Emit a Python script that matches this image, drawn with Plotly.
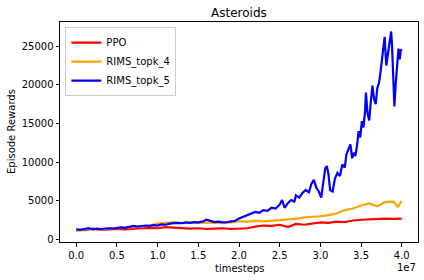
import plotly.graph_objects as go

# timesteps in units of 1e6
ppo_t = list(range(0, 41))
ppo_v = [1250, 1200, 1400, 1250, 1300, 1350, 1300, 1400, 1450, 1500,
         1450, 1600, 1550, 1500, 1400, 1450, 1350, 1400, 1450, 1350,
         1400, 1450, 1650, 1800, 1750, 1900, 1600, 2000, 1900, 2050,
         2200, 2150, 2300, 2250, 2450, 2550, 2600, 2650, 2700, 2650, 2700]

rims4_t = list(range(0, 40)) + [39.5, 40]
rims4_v = [1100, 1300, 1350, 1300, 1400, 1450, 1500, 1600, 1650, 1800,
           2050, 2150, 2200, 2150, 2200, 2150, 2200, 2150, 2100, 2200,
           2350, 2300, 2400, 2350, 2400, 2500, 2600, 2650, 2850, 2900,
           3000, 3150, 3350, 3800, 4000, 4400, 4650, 4300, 4850, 4900, 4200, 4950]

rims5_t = [0, 0.5, 1, 1.5, 2, 2.5, 3, 3.5, 4, 4.5, 5, 5.5, 6, 6.5, 7, 7.5, 8, 8.5, 9, 9.5,
           10, 10.5, 11, 11.5, 12, 12.5, 13, 13.5, 14, 14.5, 15, 15.5, 16, 16.5, 17, 17.5,
           18, 18.5, 19, 19.5, 20, 20.5, 21, 21.5, 22, 22.5, 23, 23.5, 24, 24.5, 25, 25.3,
           25.6, 26, 26.4, 26.8, 27, 27.4, 27.8, 28.2, 28.6, 28.9, 29.2, 29.5, 29.8, 30.1,
           30.4, 30.6, 30.8, 31.0, 31.2, 31.5, 31.8, 32.1, 32.4, 32.7, 33.0, 33.2, 33.5,
           33.7, 33.9, 34.1, 34.3, 34.5, 34.7, 34.9, 35.1, 35.3, 35.5, 35.6, 35.8, 36.0,
           36.2, 36.4, 36.6, 36.8, 37.0, 37.2, 37.4, 37.6, 37.9, 38.1, 38.3, 38.5, 38.7,
           38.8, 38.95, 39.1, 39.25, 39.4, 39.6, 39.75, 39.9, 40.0]
rims5_v = [1300, 1250, 1350, 1450, 1300, 1400, 1350, 1400, 1450, 1400, 1500, 1550, 1500,
           1600, 1750, 1650, 1700, 1800, 1750, 1850, 1800, 1950, 1900, 2050, 2100, 2150,
           2100, 2200, 2150, 2250, 2200, 2300, 2550, 2350, 2250, 2300, 2200, 2250, 2300,
           2400, 2700, 2900, 3200, 3300, 3550, 3450, 3800, 3700, 4100, 4000, 4500, 5100,
           4100, 4700, 5100, 4900, 5700, 5400, 6000, 6400, 6100, 7200, 7700, 6700, 6200,
           5400, 7500, 9200, 9500, 8400, 6400, 6200, 7900, 8600, 8200, 9700, 9300, 11000,
           11800, 12300, 10500, 11200, 10800, 12100, 14000, 13200, 15300, 14500, 16700,
           19000, 16300, 15400, 17800, 19900, 18200, 17500, 19600, 20200, 21700, 23600,
           26200, 22500, 24100, 25000, 26900, 25300, 21000, 17200, 20000, 22500, 24700,
           23300, 24600, 24400]

x_tick_vals = [0, 5, 10, 15, 20, 25, 30, 35, 40]
x_tick_text = ["0.0", "0.5", "1.0", "1.5", "2.0", "2.5", "3.0", "3.5", "4.0"]
y_tick_vals = [0, 5000, 10000, 15000, 20000, 25000]
y_tick_text = ["0", "5000", "10000", "15000", "20000", "25000"]

font = "DejaVu Sans"

fig = go.Figure()
fig.add_trace(go.Scatter(x=[t * 1e6 for t in ppo_t], y=ppo_v, mode="lines", name="PPO",
                         line=dict(color="red", width=2.2)))
fig.add_trace(go.Scatter(x=[t * 1e6 for t in rims4_t], y=rims4_v, mode="lines", name="RIMS_topk_4",
                         line=dict(color="orange", width=2.2)))
fig.add_trace(go.Scatter(x=[t * 1e6 for t in rims5_t], y=rims5_v, mode="lines", name="RIMS_topk_5",
                         line=dict(color="blue", width=2.2)))

axis_common = dict(showline=True, linecolor="black", linewidth=1, mirror=True,
                   showgrid=False, zeroline=False, ticks="outside", ticklen=3.5,
                   tickcolor="black", tickfont=dict(family=font, size=10, color="black"))

fig.update_layout(
    width=424, height=280,
    margin=dict(l=60, r=6, t=22, b=38),
    paper_bgcolor="white", plot_bgcolor="white",
    font=dict(family=font, size=10, color="black"),
    showlegend=True,
    legend=dict(x=0.015, y=0.977, xanchor="left", yanchor="top",
                bgcolor="rgba(255,255,255,0.8)", bordercolor="#cccccc", borderwidth=1,
                font=dict(family=font, size=10, color="black"), tracegroupgap=0),
    xaxis=dict(range=[-2e6, 42e6], tickvals=[v * 1e6 for v in x_tick_vals],
               ticktext=x_tick_text, **axis_common),
    yaxis=dict(range=[-330, 28130], tickvals=y_tick_vals, ticktext=y_tick_text, **axis_common),
    annotations=[
        dict(text="Asteroids", xref="paper", yref="paper", x=0.5, y=1, yshift=9,
             showarrow=False, font=dict(family=font, size=12, color="black"), yanchor="middle"),
        dict(text="timesteps", xref="paper", yref="paper", x=0.5, y=0, yshift=-26,
             showarrow=False, font=dict(family=font, size=10, color="black"), yanchor="middle"),
        dict(text="1e7", xref="paper", yref="paper", x=1, y=0, yshift=-25, xanchor="right",
             showarrow=False, font=dict(family=font, size=10, color="black"), yanchor="middle"),
        dict(text="Episode Rewards", xref="paper", yref="paper", x=0, xshift=-49, y=0.5,
             textangle=-90, showarrow=False, font=dict(family=font, size=10, color="black"),
             xanchor="center", yanchor="middle"),
    ],
)

# Remove the page's default body margin so the 424x280 figure fills the window.
fig.write_html("out.html", config={"displayModeBar": False},
               post_script="document.body.style.margin='0';")
